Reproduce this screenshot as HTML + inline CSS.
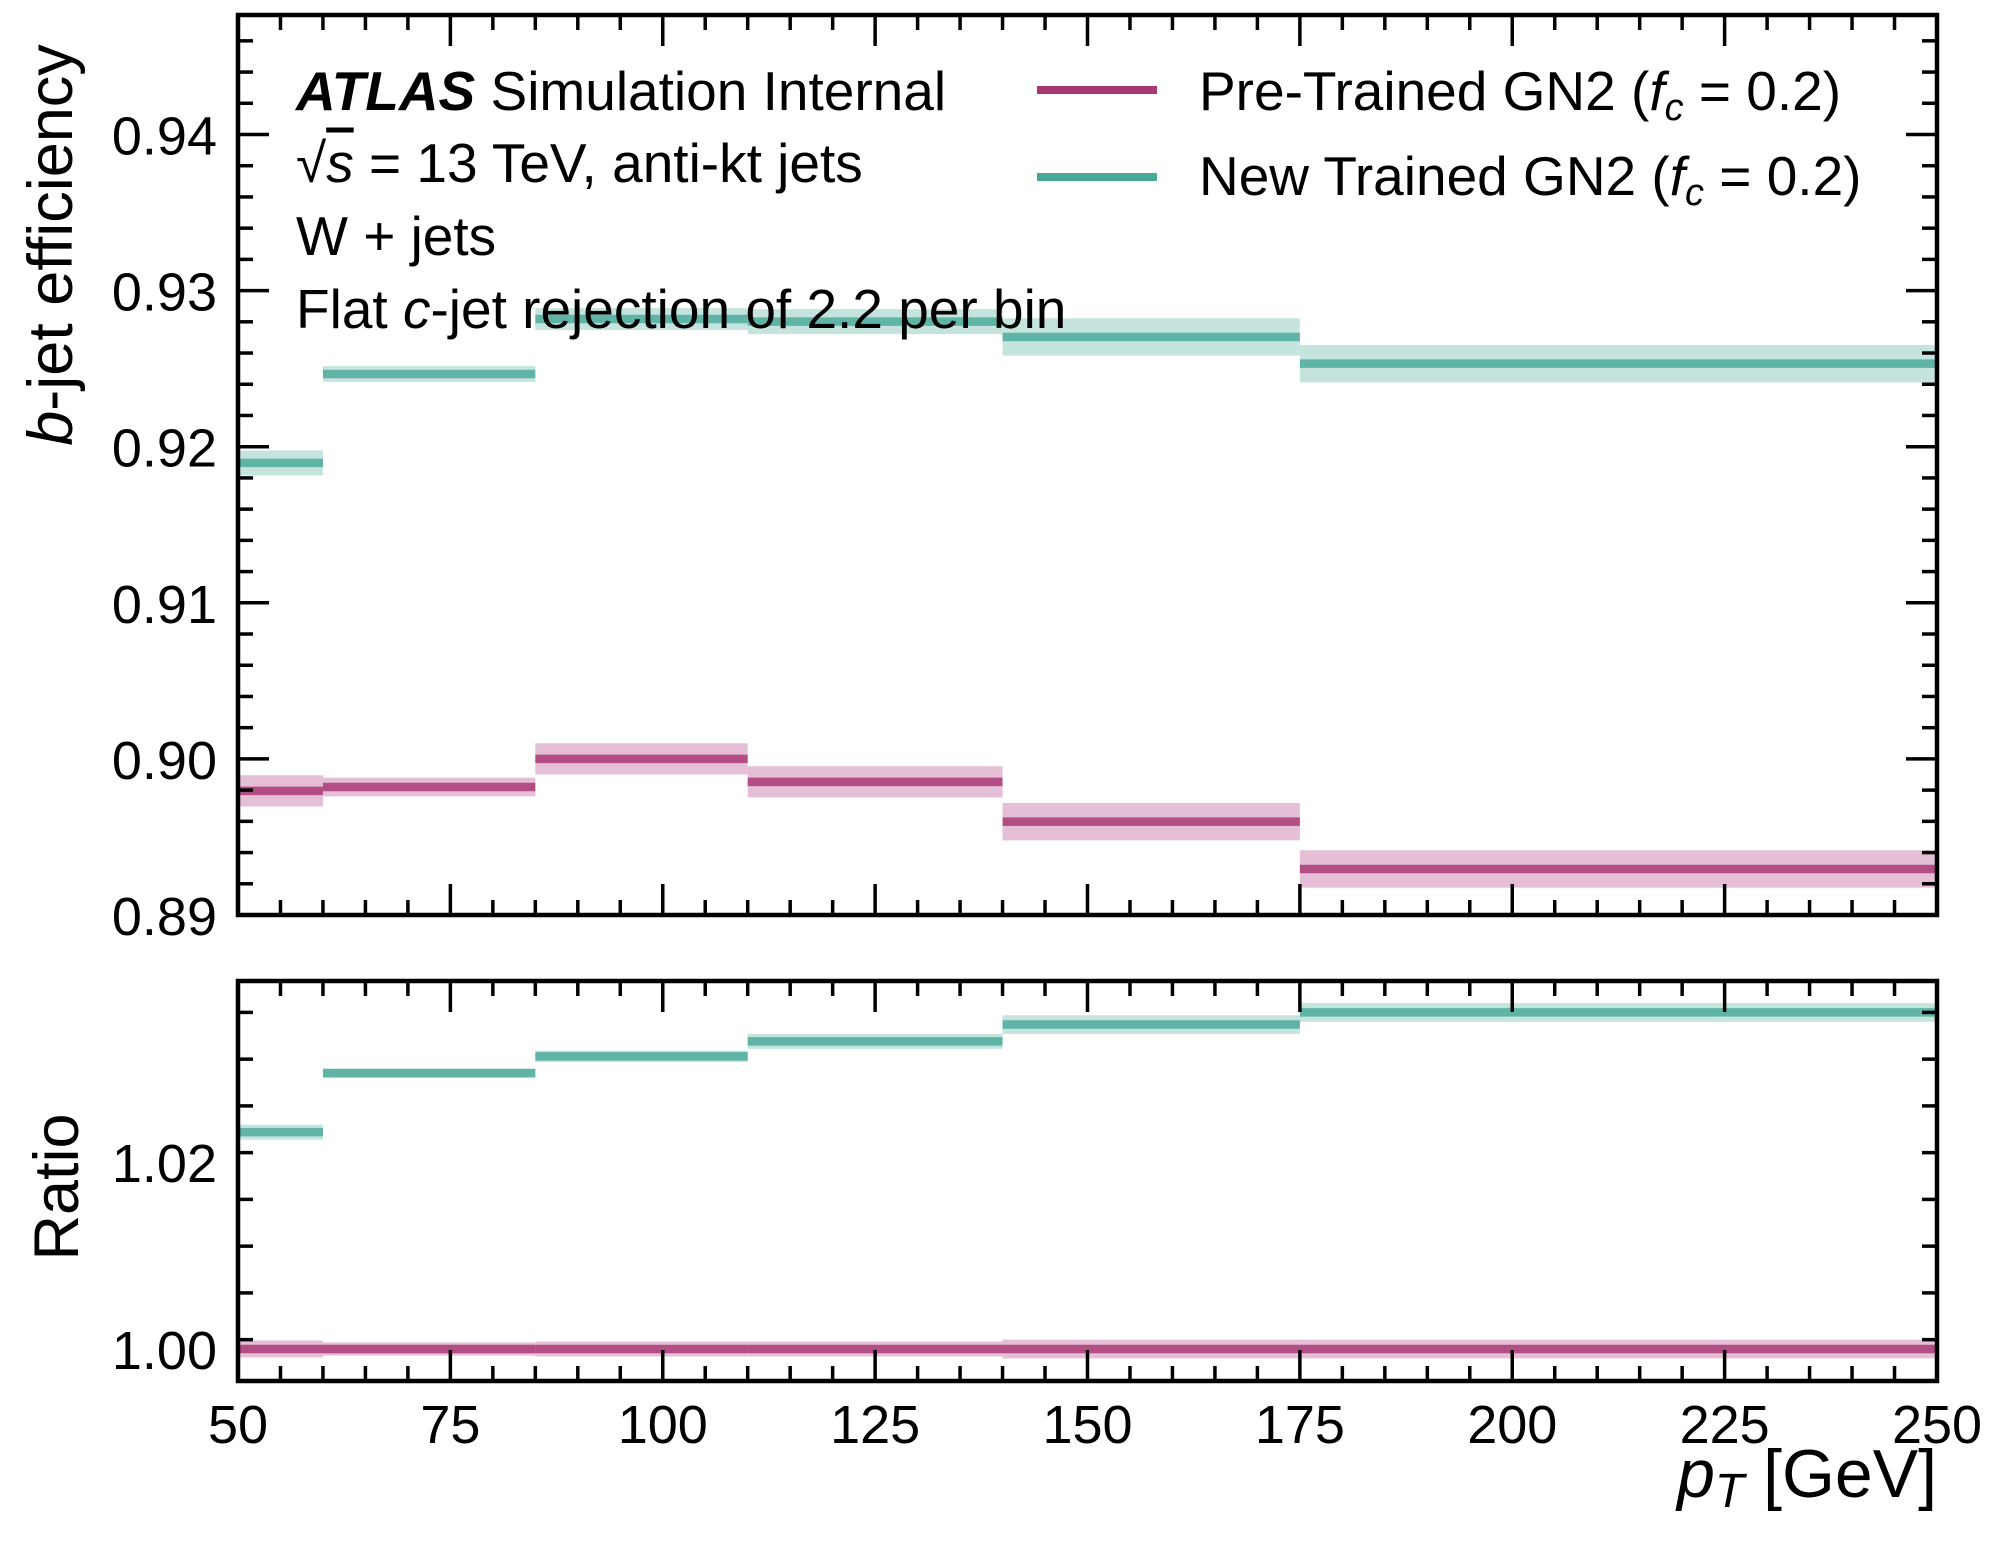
<!DOCTYPE html>
<html><head><meta charset="utf-8">
<style>
html,body{margin:0;padding:0;background:#fff;}
svg{display:block;font-family:"Liberation Sans",Arial,sans-serif;}
</style></head>
<body>
<svg id="chart" width="2000" height="1560" viewBox="0 0 2000 1560" xmlns="http://www.w3.org/2000/svg">
  <g id="bands"></g>
  <g id="lines"></g>
  <g id="axes"></g>
  <g font-size="55" fill="#000">
    <text x="296" y="110"><tspan font-weight="bold" font-style="italic">ATLAS</tspan> Simulation Internal</text>
    <text x="296" y="182">√<tspan font-style="italic" text-decoration="overline">s</tspan> = 13 TeV, anti-kt jets</text>
    <text x="296" y="255">W + jets</text>
    <text x="296" y="328">Flat <tspan font-style="italic">c</tspan>-jet rejection of 2.2 per bin</text>
  </g>
  <g font-size="55">
    <g>
      <line x1="1037" y1="90" x2="1157" y2="90" stroke="#a8386f" stroke-width="8"/>
      <text x="1199" y="110">Pre-Trained GN2 (<tspan font-style="italic">f</tspan><tspan font-style="italic" font-size="38" dy="10">c</tspan><tspan dy="-10"> = 0.2)</tspan></text>
    </g>
    <g>
      <line x1="1037" y1="177" x2="1157" y2="177" stroke="#45a898" stroke-width="8"/>
      <text x="1199" y="195">New Trained GN2 (<tspan font-style="italic">f</tspan><tspan font-style="italic" font-size="38" dy="10">c</tspan><tspan dy="-10"> = 0.2)</tspan></text>
    </g>
  </g>
  <text transform="translate(72,245) rotate(-90)" text-anchor="middle" font-size="63"><tspan font-style="italic">b</tspan>-jet efficiency</text>
  <text transform="translate(78,1187) rotate(-90)" text-anchor="middle" font-size="63">Ratio</text>
  <text x="1937" y="1497" text-anchor="end" font-size="68"><tspan font-style="italic">p</tspan><tspan font-style="italic" font-size="48" dy="10">T</tspan><tspan dy="-10"> [GeV]</tspan></text>
</svg>
<script>
const binEdges = [50, 60, 85, 110, 140, 175, 250];
const preEff = [0.89795, 0.8982, 0.9000, 0.89853, 0.89598, 0.89295];
const preErr = [0.0010, 0.0006, 0.0010, 0.0010, 0.0012, 0.0012];
const newEff = [0.91896, 0.92466, 0.92818, 0.92801, 0.92703, 0.92532];
const newErr = [0.0008, 0.0005, 0.0007, 0.0008, 0.0012, 0.0012];
const preRatio = [1.0, 1.0, 1.0, 1.0, 1.0, 1.0];
const preRatioErr = [0.0009, 0.0007, 0.0008, 0.0008, 0.0010, 0.0010];
const newRatio = [1.0232, 1.0295, 1.0313, 1.0329, 1.0347, 1.0360];
const newRatioErr = [0.0008, 0.0005, 0.0006, 0.0008, 0.0010, 0.0010];
const xTicks = [50, 75, 100, 125, 150, 175, 200, 225, 250];
const yTicksTop = [0.89, 0.90, 0.91, 0.92, 0.93, 0.94];
const yTicksBot = [1.00, 1.02];

const L = 238, R = 1937;
const X = v => L + (v - 50) / 200 * (R - L);
const TOP = {t: 15, b: 915, y0: 0.89, pxPer: 15610};
const BOT = {t: 981, b: 1381, y0: 1.00, base: 1349, pxPer: 9350};
const Yt = v => TOP.b - (v - TOP.y0) * TOP.pxPer;
const Yb = v => BOT.base - (v - BOT.y0) * BOT.pxPer;
const NS = 'http://www.w3.org/2000/svg';
function mk(tag, attrs, parent) {
  const e = document.createElementNS(NS, tag);
  for (const k in attrs) e.setAttribute(k, attrs[k]);
  parent.appendChild(e);
  return e;
}
const bands = document.getElementById('bands');
const lines = document.getElementById('lines');
const axes = document.getElementById('axes');

function drawSeries(vals, errs, Y, lineCol, bandCol, name) {
  for (let i = 0; i < vals.length; i++) {
    const x1 = X(binEdges[i]), x2 = X(binEdges[i + 1]);
    const b = mk('rect', {x: x1, y: Y(vals[i] + errs[i]), width: x2 - x1, height: Y(vals[i] - errs[i]) - Y(vals[i] + errs[i]), fill: bandCol}, bands);
    
    
    const l = mk('line', {x1: x1, x2: x2, y1: Y(vals[i]), y2: Y(vals[i]), stroke: lineCol, 'stroke-width': 8.5}, lines);
    
    
  }
}
drawSeries(preEff, preErr, Yt, '#b24d86', '#e4bfd5', 'pretrained-eff');
drawSeries(newEff, newErr, Yt, '#5fb4a6', '#c5e4de', 'newtrained-eff');
drawSeries(preRatio, preRatioErr, Yb, '#b24d86', '#e4bfd5', 'pretrained-ratio');
drawSeries(newRatio, newRatioErr, Yb, '#5fb4a6', '#c5e4de', 'newtrained-ratio');

function tick(x1, y1, x2, y2) { mk('line', {x1, y1, x2, y2, stroke: '#000', 'stroke-width': 3.5}, axes); }
function panel(p, Y, yMin, yMax, majors, minorStep, labelFmt, panelName) {
  const fr = mk('rect', {x: L, y: p.t, width: R - L, height: p.b - p.t, fill: 'none', stroke: '#000', 'stroke-width': 4.5}, axes);
  
  
  for (let v = 50; v <= 250.01; v += 5) {
    const len = (Math.abs((v - 50) % 25) < 0.01) ? 31 : 15;
    const x = X(v);
    tick(x, p.b, x, p.b - len);
    tick(x, p.t, x, p.t + len);
  }
  const n = Math.round((yMax - yMin) / minorStep);
  for (let k = 0; k <= n; k++) {
    const v = yMin + k * minorStep;
    const y = Y(v);
    if (y < p.t + 2 || y > p.b - 2) continue;
    const isMajor = majors.some(m => Math.abs(m - v) < 1e-6);
    const len = isMajor ? 31 : 15;
    tick(L, y, L + len, y);
    tick(R, y, R - len, y);
  }
  majors.forEach(m => {
    const t = mk('text', {x: 217, y: Y(m) + 20, 'text-anchor': 'end', 'font-size': 54}, axes);
    t.textContent = labelFmt(m);
    
    
  });
}
panel(TOP, Yt, 0.89, 0.948, yTicksTop, 0.002, v => v.toFixed(2), 'efficiency-panel');
panel(BOT, Yb, 0.996, 1.04, yTicksBot, 0.005, v => v.toFixed(2), 'ratio-panel');
xTicks.forEach(v => {
  const t = mk('text', {x: X(v), y: 1443, 'text-anchor': 'middle', 'font-size': 54}, axes);
  t.textContent = String(v);
  
  
});
</script>
</body></html>
